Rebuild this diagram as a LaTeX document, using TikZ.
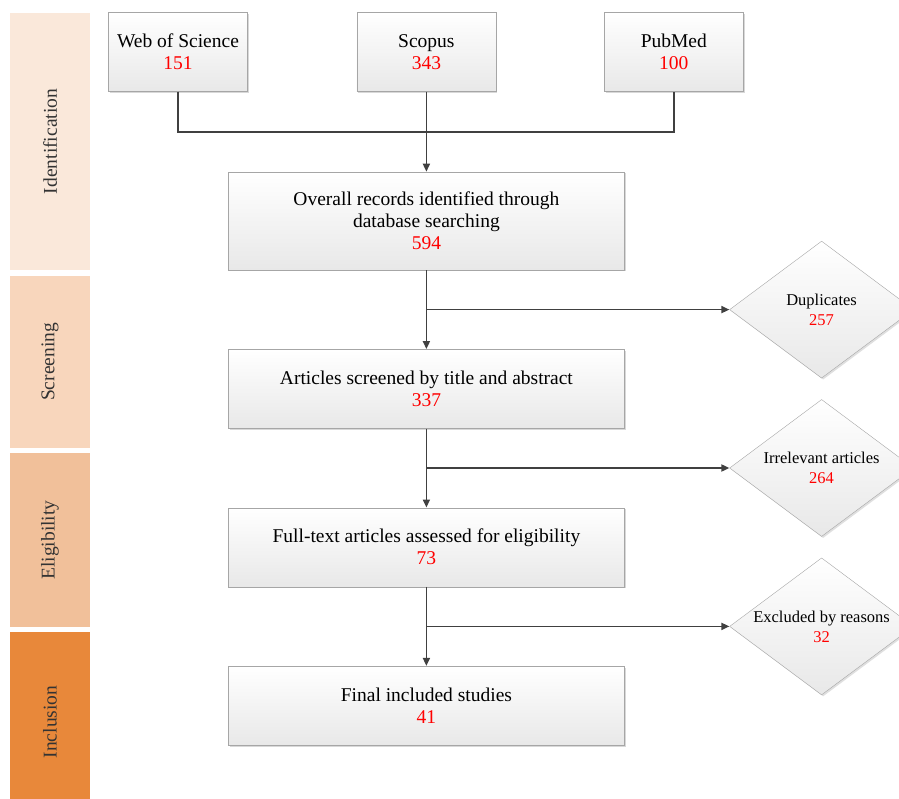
\documentclass[tikz,border=0pt]{standalone}
\usepackage{fontspec}
\setmainfont{Liberation Serif}
\usepackage{xcolor}
\usetikzlibrary{shapes.geometric, arrows.meta, positioning, shadows, calc}

\definecolor{idfill}{HTML}{FAE8DA}
\definecolor{scfill}{HTML}{F8D6BC}
\definecolor{elfill}{HTML}{F1C09A}
\definecolor{infill}{HTML}{E8883A}
\definecolor{boxline}{HTML}{A6A6A6}
\definecolor{linecol}{HTML}{404040}
\newcommand{\cnt}[1]{\textcolor{red}{#1}}

\begin{document}
\begin{tikzpicture}[x=1pt, y=1pt, node distance=79pt,
    box/.style={draw=boxline, rectangle, top color=white, bottom color=black!9, minimum width=396pt, minimum height=79pt, align=center, font=\fontsize{19.5}{22}\selectfont, drop shadow={shadow xshift=1.5pt, shadow yshift=-1.5pt, fill=black!30}},
    src/.style={box, minimum width=139pt},
    decision/.style={draw=boxline, diamond, aspect=1.34, inner sep=0pt, minimum width=184pt, minimum height=137pt, top color=white, bottom color=black!9, align=center, font=\fontsize{16.5}{20}\selectfont, drop shadow={shadow xshift=1.5pt, shadow yshift=-1.5pt, fill=black!25}},
    stage/.style={rectangle, rotate=90, minimum height=80pt, font=\fontsize{19.5}{22}\selectfont, text=black!80},
    link/.style={draw=linecol, line width=1.7pt},
    arrow/.style={link, -{Triangle[length=8pt, width=7pt]}}]
    \useasboundingbox (0,0) rectangle (899,-799);

    % Stages
    \node (ident) [stage, fill=idfill, minimum width=257pt] at (50,-141.5) {Identification};
    \node (scr) [stage, fill=scfill, minimum width=172pt] at (50,-362) {Screening};
    \node (elig) [stage, fill=elfill, minimum width=174pt] at (50,-540) {Eligibility};
    \node (incl) [stage, fill=infill, minimum width=180pt] at (50,-722) {Inclusion};

    % Databases
    \node (wos) [src] at (178,-52) {Web of Science\\\cnt{151}};
    \node (scopus) [src, right=109pt of wos] {Scopus\\\cnt{343}};
    \node (pubmed) [src, right=108pt of scopus] {PubMed\\\cnt{100}};

    % Main flow
    \node (overall) [box, minimum height=98pt, below=80pt of scopus] {Overall records identified through\\database searching\\\cnt{594}};
    \node (screen) [box, below=of overall] {Articles screened by title and abstract\\\cnt{337}};
    \node (full) [box, below=of screen] {Full-text articles assessed for eligibility\\\cnt{73}};
    \node (final) [box, below=of full] {Final included studies\\\cnt{41}};

    % Exclusions
    \coordinate (b1) at ($(overall.south)!0.5!(screen.north)$);
    \coordinate (b2) at ($(screen.south)!0.5!(full.north)$);
    \coordinate (b3) at ($(full.south)!0.5!(final.north)$);
    \node (dup) [decision, right=303pt of b1] {Duplicates\\\cnt{257}};
    \node (irr) [decision, right=303pt of b2] {Irrelevant articles\\\cnt{264}};
    \node (excl) [decision, right=303pt of b3] {Excluded by reasons\\\cnt{32}};

    % Connections
    \coordinate (join) at ($(scopus.south)+(0,-40)$);
    \draw[link] (wos.south) |- (join) -| (pubmed.south);
    \draw[arrow] (scopus) -- (overall);
    \draw[arrow] (overall) -- (screen);
    \draw[arrow] (screen) -- (full);
    \draw[arrow] (full) -- (final);
    \draw[arrow] (b1) -- (dup);
    \draw[arrow] (b2) -- (irr);
    \draw[arrow] (b3) -- (excl);
\end{tikzpicture}
\end{document}
